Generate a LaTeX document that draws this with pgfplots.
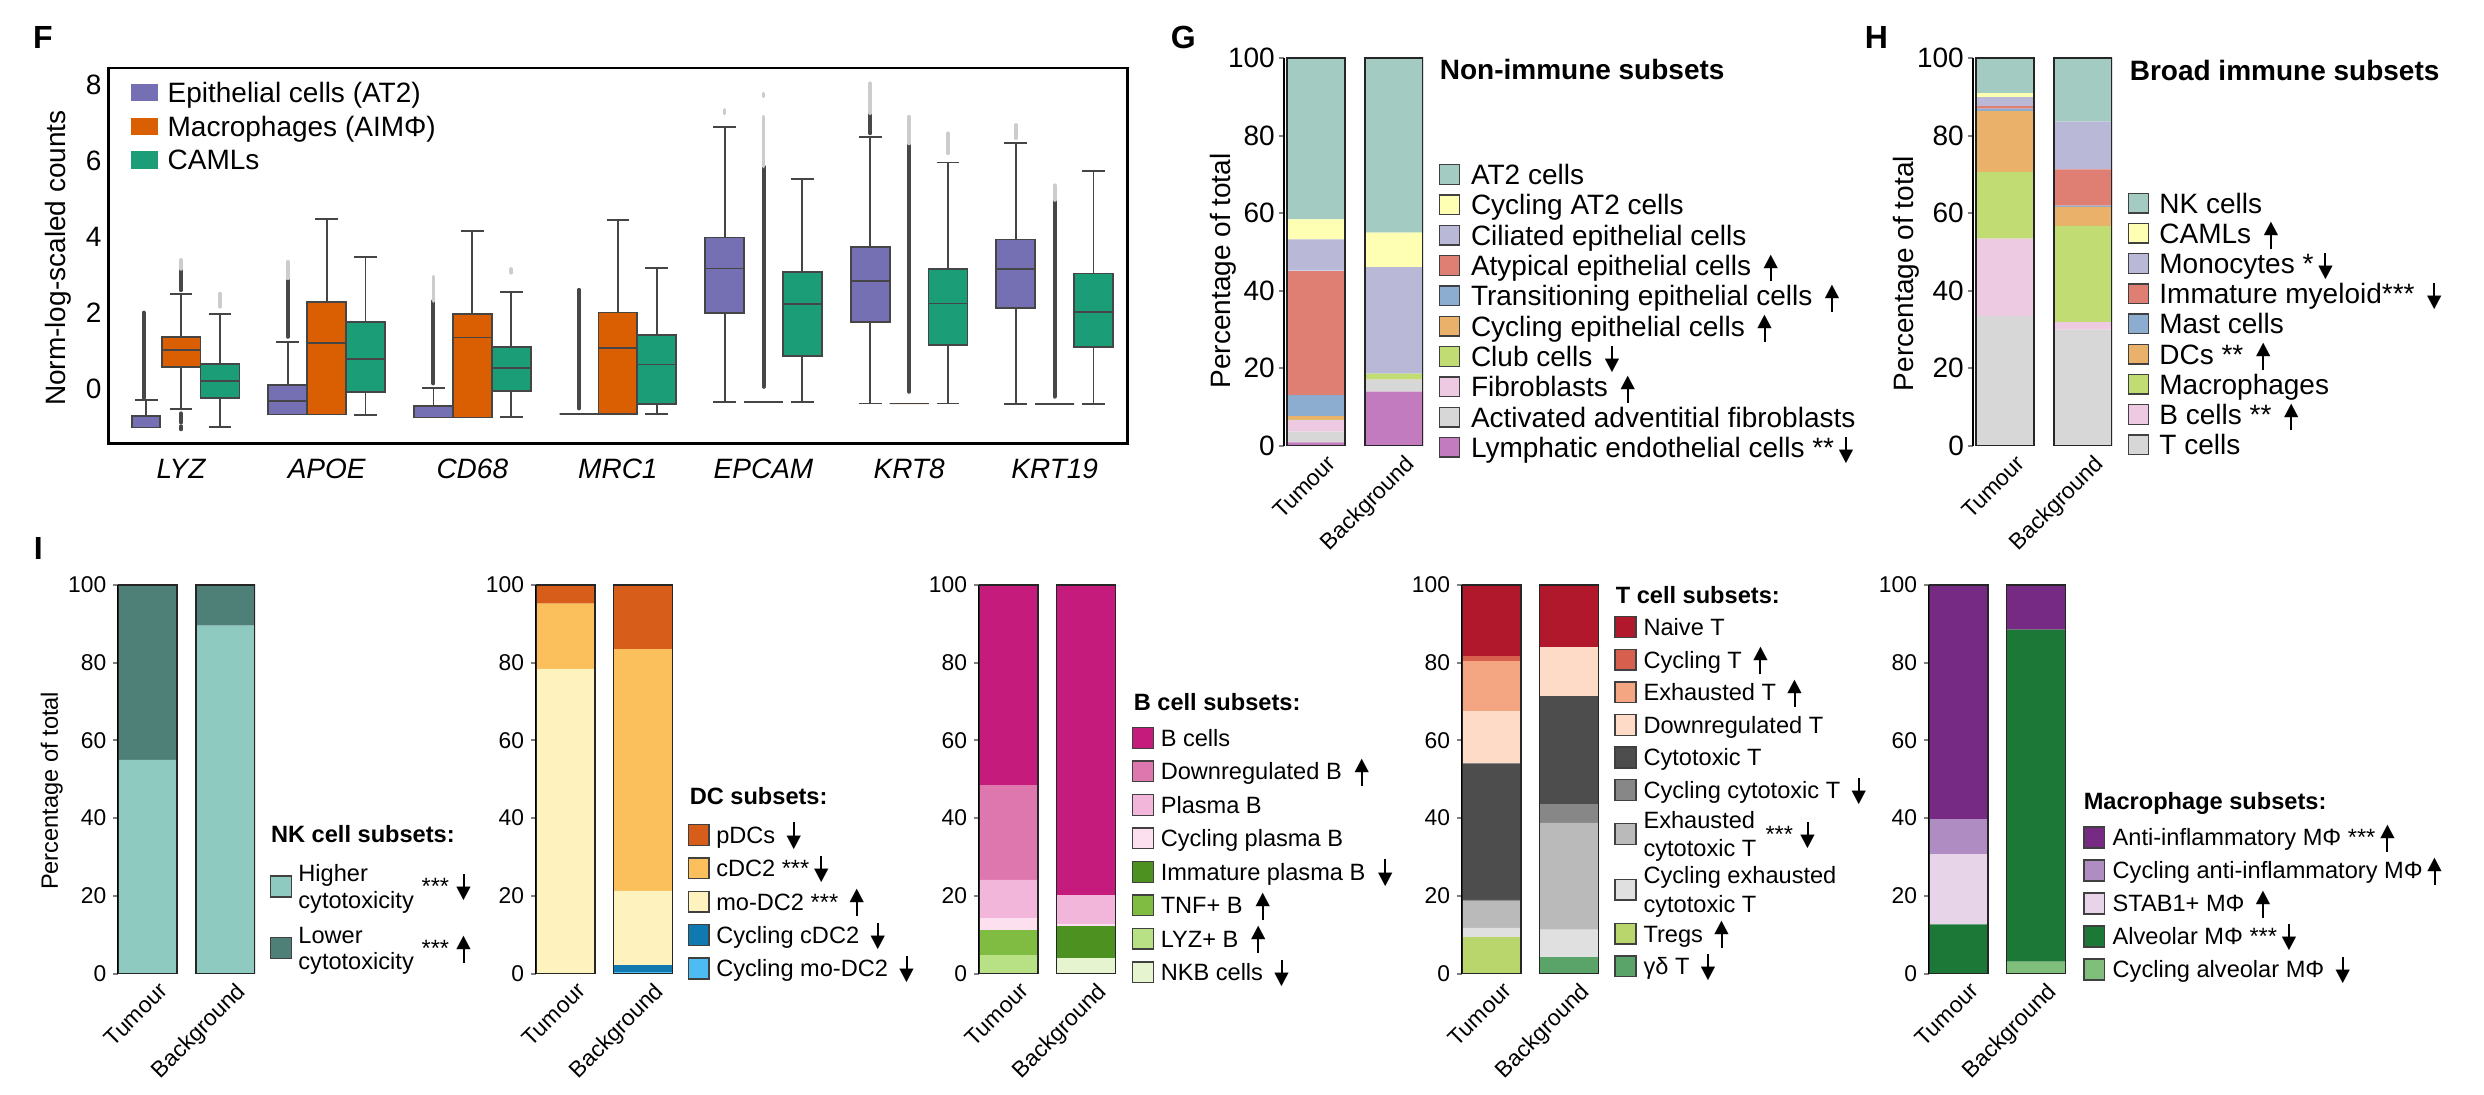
\documentclass[border=0pt]{standalone}
\usepackage{fontspec}
\setmainfont{Liberation Sans}
\newfontfamily\arrowfont{DejaVu Sans}
\usepackage{graphicx}
\usepackage{pgfplots}
\pgfplotsset{compat=1.18}
\usepgfplotslibrary{statistics}

\newcommand\fseven{\fontsize{7pt}{8.4pt}\selectfont}
\newcommand\fsix{\fontsize{5.9pt}{6.6pt}\selectfont}
\newcommand\fxt{\fontsize{5.7pt}{6.8pt}\selectfont}
\newcommand\fletter{\fontsize{8pt}{9.6pt}\selectfont\bfseries}
\newcommand\tri[1]{\resizebox*{3.6pt}{3.4pt}{\raisebox{\depth}{\arrowfont #1}}}
\newcommand\up{\hspace{1.2pt}\raisebox{-1.5pt}{\rlap{\hspace{1.55pt}\rule{0.5pt}{4pt}}\raisebox{3.3pt}{\tri{▲}}}}
\newcommand\dn{\hspace{1.2pt}\raisebox{-1.5pt}{\rlap{\hspace{1.55pt}\raisebox{2.7pt}{\rule{0.5pt}{4pt}}}\tri{▼}}}

\newcommand\nkHiT{\parbox[t]{30.8pt}{\fontsize{5.9pt}{6.6pt}\selectfont\raggedright Higher\\cytotoxicity}\raisebox{-3.3pt}{***\hspace{0.6pt}\dn}}
\newcommand\nkLoT{\parbox[t]{30.8pt}{\fontsize{5.9pt}{6.6pt}\selectfont\raggedright Lower\\cytotoxicity}\raisebox{-3.3pt}{***\hspace{0.6pt}\up}}
\newcommand\tExhT{\parbox[t]{30.5pt}{\fontsize{5.9pt}{7.05pt}\selectfont\raggedright Exhausted\\cytotoxic T}\raisebox{-3.5pt}{***\hspace{0.6pt}\dn}}
\newcommand\tCycExhT{\parbox[t]{55pt}{\fontsize{5.9pt}{7.05pt}\selectfont\raggedright Cycling exhausted\\cytotoxic T}}

\definecolor{fEpi}{HTML}{7570B3}
\definecolor{fMac}{HTML}{D95F02}
\definecolor{fCaml}{HTML}{1B9E77}
\definecolor{bxd}{HTML}{454545}
\definecolor{gAT}{HTML}{A3CBC1}
\definecolor{gCAT}{HTML}{FFFFB3}
\definecolor{gCil}{HTML}{B9B8D6}
\definecolor{gAty}{HTML}{DF7E72}
\definecolor{gTra}{HTML}{8DADD0}
\definecolor{gCEp}{HTML}{E9B169}
\definecolor{gClu}{HTML}{C0DC73}
\definecolor{gFib}{HTML}{EDCAE1}
\definecolor{gAct}{HTML}{D7D7D7}
\definecolor{gLym}{HTML}{C17BBE}
\definecolor{nkHi}{HTML}{8ECAC0}
\definecolor{nkLo}{HTML}{4E8077}
\definecolor{dP}{HTML}{D75E1A}
\definecolor{dC}{HTML}{FBBF5C}
\definecolor{dM}{HTML}{FEF2BE}
\definecolor{dCC}{HTML}{1079B0}
\definecolor{dCM}{HTML}{4DBCF3}
\definecolor{bB}{HTML}{C51B7D}
\definecolor{bD}{HTML}{DE77AE}
\definecolor{bP}{HTML}{F1B6DA}
\definecolor{bCP}{HTML}{FDE0EF}
\definecolor{bI}{HTML}{4D9221}
\definecolor{bT}{HTML}{7FBC41}
\definecolor{bL}{HTML}{B8E186}
\definecolor{bN}{HTML}{E6F5D0}
\definecolor{tN}{HTML}{B2182B}
\definecolor{tC}{HTML}{D6604D}
\definecolor{tE}{HTML}{F4A582}
\definecolor{tD}{HTML}{FDDBC7}
\definecolor{tCy}{HTML}{4D4D4D}
\definecolor{tCC}{HTML}{878787}
\definecolor{tEC}{HTML}{BABABA}
\definecolor{tCE}{HTML}{E0E0E0}
\definecolor{tR}{HTML}{B8D66B}
\definecolor{tG}{HTML}{5AA469}
\definecolor{mA}{HTML}{762A83}
\definecolor{mCA}{HTML}{AF8DC3}
\definecolor{mS}{HTML}{E7D4E8}
\definecolor{mAl}{HTML}{1B7837}
\definecolor{mCAl}{HTML}{7FBF7B}

\pgfplotsset{
  flierD/.style={line width=1.0pt, color=black!72, line cap=round, forget plot},
  flierL/.style={line width=0.9pt, color=black!20, line cap=round, forget plot},
  bx/.style={draw=bxd, line width=0.45pt, forget plot},
  sqG/.style={legend image code/.code={\draw[##1,draw=black!75,line width=0.35pt] (0pt,-2.45pt) rectangle (4.9pt,2.45pt);}},
  sqI/.style={legend image code/.code={\draw[##1,draw=black!75,line width=0.35pt] (0pt,-2.6pt) rectangle (5.2pt,2.6pt);}},
  barax/.style={
    scale only axis, anchor=north west,
    ybar stacked,
    ymin=0, ymax=100, enlargelimits=false,
    axis lines*=left,
    x axis line style={draw=none},
    y axis line style={line width=0.5pt},
    xtick={0,1}, xticklabels={Tumour,Background},
    xtick style={draw=none},
    ytick={0,20,40,60,80,100},
    ytick style={line width=0.5pt},
    tick align=outside, major tick length=1.3pt,
    /pgf/number format/assume math mode=true,
    xticklabel style={font=\fxt, rotate=45, anchor=north east, inner sep=0pt, xshift=1.5pt, yshift=-2pt},
    legend cell align=left,
    every axis plot post/.append style={draw=none},
  },
  gh/.style={barax, width=34.75pt, height=97pt, xmin=-0.41, xmax=1.372, bar width=0.744,
    yticklabel style={font=\fseven, inner xsep=0.8pt},
    ylabel style={font=\fseven},
    every axis plot post/.append style={sqG},
    legend style={draw=none, fill=none, inner sep=0pt, outer sep=0pt, anchor=north west, font=\fseven,
      nodes={inner sep=0pt, text height=5pt, text depth=0pt}},
  },
  ip/.style={barax, width=34.25pt, height=97.175pt, xmin=-0.381, xmax=1.387, bar width=0.761,
    yticklabel style={font=\fxt, inner xsep=1.5pt},
    ylabel style={font=\fsix},
    every axis plot post/.append style={sqI},
    legend style={draw=none, fill=none, inner sep=0pt, outer sep=0pt, anchor=north west, font=\fsix,
      nodes={inner sep=0pt, text height=4.22pt, text depth=0pt}},
  },
}

\newcommand{\barframe}[6]{%
  \begin{axis}[at={#1}, anchor=north west, scale only axis, width=#2, height=#3,
    xmin=#4, xmax=#5, ymin=0, ymax=100, hide axis, ybar, bar width=#6]
  \addplot[fill=none, draw=black!85, line width=0.45pt] coordinates {(0,100) (1,100)};
  \end{axis}}

\begin{document}
\begin{tikzpicture}
\path[use as bounding box] (0,0) rectangle (621pt,-273.5pt);

\node[anchor=base west, inner sep=0pt, font=\fletter] at (8.1pt,-12.1pt) {F};
\node[anchor=base west, inner sep=0pt, font=\fletter] at (292.5pt,-12.05pt) {G};
\node[anchor=base west, inner sep=0pt, font=\fletter] at (466pt,-12.05pt) {H};
\node[anchor=base west, inner sep=0pt, font=\fletter] at (8.25pt,-139.85pt) {I};

% ---------------- F ----------------
\begin{axis}[
  at={(27.075pt,-16.925pt)}, anchor=north west, scale only axis,
  width=254.8pt, height=93.9pt,
  xmin=-0.5, xmax=6.5, ymin=-1.45, ymax=8.46,
  axis line style={line width=0.6pt},
  xtick={0,1,2,3,4,5,6},
  xticklabels={LYZ,APOE,CD68,MRC1,EPCAM,KRT8,KRT19},
  xticklabel style={font=\fseven\itshape, inner sep=0pt, yshift=-3.75pt},
  ytick={0,2,4,6,8},
  yticklabel style={font=\fseven, inner xsep=1.5pt},
  major tick length=0pt,
  /pgf/number format/assume math mode=true,
  ylabel={Norm-log-scaled counts},
  ylabel style={font=\fseven, at={(axis description cs:-0.049,0.493)}, anchor=center},
  boxplot/draw direction=y,
  boxplot/box extend=0.267,
  boxplot/whisker extend=0.156,
  legend style={draw=none, fill=none, inner sep=0pt, outer sep=0pt, at={(0.0223,0.961)}, anchor=north west,
    font=\fseven, row sep=3.45pt, column sep=2.5pt, nodes={inner sep=0pt, text height=5pt, text depth=0pt}},
  legend cell align=left,
]
% fliers
\addplot[flierD] coordinates {(-0.257,-0.25) (-0.257,2.0)};
\addplot[flierD] coordinates {(0,2.59) (0,3.15)};
\addplot[flierL] coordinates {(0,3.15) (0,3.39)};
\addplot[flierD] coordinates {(0,-0.66) (0,-0.9)};
\addplot[flierD] coordinates {(0,-1.0) (0,-1.08)};
\addplot[flierL] coordinates {(0.267,2.15) (0.267,2.5)};
\addplot[flierD] coordinates {(0.733,1.36) (0.733,2.9)};
\addplot[flierL] coordinates {(0.733,2.9) (0.733,3.34)};
\addplot[flierD] coordinates {(1.733,0.13) (1.733,2.3)};
\addplot[flierL] coordinates {(1.733,2.3) (1.733,2.95)};
\addplot[flierL] coordinates {(2.267,3.05) (2.267,3.15)};
\addplot[flierD] coordinates {(2.733,-0.53) (2.733,2.6)};
\addplot[flierL] coordinates {(3.733,7.25) (3.733,7.35)};
\addplot[flierD] coordinates {(4,0.04) (4,5.85)};
\addplot[flierL] coordinates {(4,5.85) (4,7.17)};
\addplot[flierL] coordinates {(4,7.7) (4,7.78)};
\addplot[flierD] coordinates {(4.733,6.73) (4.733,7.26)};
\addplot[flierL] coordinates {(4.733,7.26) (4.733,8.05)};
\addplot[flierD] coordinates {(5,-0.09) (5,6.46)};
\addplot[flierL] coordinates {(5,6.46) (5,7.17)};
\addplot[flierL] coordinates {(5.267,6.2) (5.267,6.73)};
\addplot[flierL] coordinates {(5.733,6.6) (5.733,6.95)};
\addplot[flierD] coordinates {(6,-0.22) (6,4.97)};
\addplot[flierL] coordinates {(6,4.97) (6,5.36)};
% boxes LYZ
\addplot[bx, fill=fEpi, boxplot prepared={draw position=-0.24, box extend=0.19, lower whisker=-1.03, lower quartile=-1.03, median=-1.03, upper quartile=-0.73, upper whisker=-0.31}] coordinates {};
\addplot[bx, fill=fMac, boxplot prepared={draw position=0, lower whisker=-0.55, lower quartile=0.57, median=1.01, upper quartile=1.35, upper whisker=2.48}] coordinates {};
\addplot[bx, fill=fCaml, boxplot prepared={draw position=0.267, lower whisker=-1.01, lower quartile=-0.25, median=0.19, upper quartile=0.65, upper whisker=1.96}] coordinates {};
% APOE
\addplot[bx, fill=fEpi, boxplot prepared={draw position=0.733, lower whisker=-0.69, lower quartile=-0.69, median=-0.33, upper quartile=0.09, upper whisker=1.23}] coordinates {};
\addplot[bx, fill=fMac, boxplot prepared={draw position=1, lower whisker=-0.69, lower quartile=-0.69, median=1.19, upper quartile=2.27, upper whisker=4.47}] coordinates {};
\addplot[bx, fill=fCaml, boxplot prepared={draw position=1.267, lower whisker=-0.70, lower quartile=-0.09, median=0.77, upper quartile=1.75, upper whisker=3.47}] coordinates {};
% CD68
\addplot[bx, fill=fEpi, boxplot prepared={draw position=1.733, lower whisker=-0.77, lower quartile=-0.77, median=-0.77, upper quartile=-0.46, upper whisker=0.0}] coordinates {};
\addplot[bx, fill=fMac, boxplot prepared={draw position=2, lower whisker=-0.77, lower quartile=-0.77, median=1.34, upper quartile=1.96, upper whisker=4.15}] coordinates {};
\addplot[bx, fill=fCaml, boxplot prepared={draw position=2.267, lower whisker=-0.76, lower quartile=-0.06, median=0.53, upper quartile=1.10, upper whisker=2.55}] coordinates {};
% MRC1
\addplot[bx, fill=fEpi, boxplot prepared={draw position=2.733, lower whisker=-0.68, lower quartile=-0.68, median=-0.68, upper quartile=-0.68, upper whisker=-0.68}] coordinates {};
\addplot[bx, fill=fMac, boxplot prepared={draw position=3, lower whisker=-0.68, lower quartile=-0.68, median=1.07, upper quartile=2.0, upper whisker=4.44}] coordinates {};
\addplot[bx, fill=fCaml, boxplot prepared={draw position=3.267, lower whisker=-0.68, lower quartile=-0.42, median=0.63, upper quartile=1.41, upper whisker=3.18}] coordinates {};
% EPCAM
\addplot[bx, fill=fEpi, boxplot prepared={draw position=3.733, lower whisker=-0.37, lower quartile=1.98, median=3.16, upper quartile=3.98, upper whisker=6.90}] coordinates {};
\addplot[bx, fill=fMac, boxplot prepared={draw position=4, lower whisker=-0.37, lower quartile=-0.37, median=-0.37, upper quartile=-0.37, upper whisker=-0.37}] coordinates {};
\addplot[bx, fill=fCaml, boxplot prepared={draw position=4.267, lower whisker=-0.37, lower quartile=0.86, median=2.22, upper quartile=3.06, upper whisker=5.52}] coordinates {};
% KRT8
\addplot[bx, fill=fEpi, boxplot prepared={draw position=4.733, lower whisker=-0.40, lower quartile=1.76, median=2.83, upper quartile=3.72, upper whisker=6.64}] coordinates {};
\addplot[bx, fill=fMac, boxplot prepared={draw position=5, lower whisker=-0.40, lower quartile=-0.40, median=-0.40, upper quartile=-0.40, upper whisker=-0.40}] coordinates {};
\addplot[bx, fill=fCaml, boxplot prepared={draw position=5.267, lower whisker=-0.40, lower quartile=1.14, median=2.24, upper quartile=3.14, upper whisker=5.96}] coordinates {};
% KRT19
\addplot[bx, fill=fEpi, boxplot prepared={draw position=5.733, lower whisker=-0.42, lower quartile=2.11, median=3.14, upper quartile=3.93, upper whisker=6.48}] coordinates {};
\addplot[bx, fill=fMac, boxplot prepared={draw position=6, lower whisker=-0.42, lower quartile=-0.42, median=-0.42, upper quartile=-0.42, upper whisker=-0.42}] coordinates {};
\addplot[bx, fill=fCaml, boxplot prepared={draw position=6.267, lower whisker=-0.42, lower quartile=1.10, median=2.02, upper quartile=3.03, upper whisker=5.73}] coordinates {};
\addlegendimage{legend image code/.code={\fill[fEpi] (0pt,-1.95pt) rectangle (6.25pt,1.95pt);}}
\addlegendentry{Epithelial cells (AT2)}
\addlegendimage{legend image code/.code={\fill[fMac] (0pt,-1.95pt) rectangle (6.25pt,1.95pt);}}
\addlegendentry{Macrophages (AIMΦ)}
\addlegendimage{legend image code/.code={\fill[fCaml] (0pt,-1.95pt) rectangle (6.25pt,1.95pt);}}
\addlegendentry{CAMLs}
\end{axis}

% ---------------- G ----------------
\begin{axis}[gh, at={(321pt,-14.475pt)},
  ylabel={Percentage of total},
  ylabel style={at={(axis description cs:-0.435,0.451)}, anchor=center},
  reverse legend,
  legend style={at={(1.115,0.7266)}, row sep=2.33pt, column sep=2.75pt},
]
\addplot[fill=gLym] coordinates {(0,0.9) (1,14.0)}; \addlegendentry{Lymphatic endothelial cells **\dn}
\addplot[fill=gAct] coordinates {(0,2.8) (1,3.0)}; \addlegendentry{Activated adventitial fibroblasts}
\addplot[fill=gFib] coordinates {(0,2.95) (1,0.1)}; \addlegendentry{Fibroblasts \up}
\addplot[fill=gClu] coordinates {(0,0.1) (1,1.5)}; \addlegendentry{Club cells \dn}
\addplot[fill=gCEp] coordinates {(0,0.85) (1,0)}; \addlegendentry{Cycling epithelial cells \up}
\addplot[fill=gTra] coordinates {(0,5.6) (1,0)}; \addlegendentry{Transitioning epithelial cells \up}
\addplot[fill=gAty] coordinates {(0,32.0) (1,0)}; \addlegendentry{Atypical epithelial cells \up}
\addplot[fill=gCil] coordinates {(0,8.0) (1,27.5)}; \addlegendentry{Ciliated epithelial cells}
\addplot[fill=gCAT] coordinates {(0,5.2) (1,8.9)}; \addlegendentry{Cycling AT2 cells}
\addplot[fill=gAT] coordinates {(0,41.6) (1,45.0)}; \addlegendentry{AT2 cells}
\end{axis}
\barframe{(321pt,-14.475pt)}{34.75pt}{97pt}{-0.41}{1.372}{0.744}
\node[anchor=base west, inner sep=0pt, font=\fseven\bfseries] at (359.75pt,-19.75pt) {Non-immune subsets};

% ---------------- H ----------------
\begin{axis}[gh, at={(493.25pt,-14.475pt)},
  ylabel={Percentage of total},
  ylabel style={at={(axis description cs:-0.48,0.444)}, anchor=center},
  reverse legend,
  legend style={at={(1.115,0.653)}, row sep=2.3pt, column sep=2.6pt},
]
\addplot[fill=gAct] coordinates {(0,33.5) (1,30.0)}; \addlegendentry{T cells}
\addplot[fill=gFib] coordinates {(0,19.9) (1,1.9)}; \addlegendentry{B cells ** \up}
\addplot[fill=gClu] coordinates {(0,17.2) (1,24.8)}; \addlegendentry{Macrophages}
\addplot[fill=gCEp] coordinates {(0,15.7) (1,4.9)}; \addlegendentry{DCs ** \up}
\addplot[fill=gTra] coordinates {(0,0.6) (1,0.3)}; \addlegendentry{Mast cells}
\addplot[fill=gAty] coordinates {(0,0.7) (1,9.4)}; \addlegendentry{Immature myeloid*** \dn}
\addplot[fill=gCil] coordinates {(0,2.3) (1,12.3)}; \addlegendentry{Monocytes *\dn}
\addplot[fill=gCAT] coordinates {(0,1.1) (1,0)}; \addlegendentry{CAMLs \up}
\addplot[fill=gAT] coordinates {(0,9.0) (1,16.4)}; \addlegendentry{NK cells}
\end{axis}
\barframe{(493.25pt,-14.475pt)}{34.75pt}{97pt}{-0.41}{1.372}{0.744}
\node[anchor=base west, inner sep=0pt, font=\fseven\bfseries] at (532.25pt,-20.15pt) {Broad immune subsets};

% ---------------- I: NK ----------------
\begin{axis}[ip, at={(29.55pt,-146.225pt)},
  ylabel={Percentage of total},
  ylabel style={at={(axis description cs:-0.485,0.47)}, anchor=center},
  legend style={at={(1.108,0.28)}, row sep=4.6pt, column sep=1.55pt},
]
\addplot[fill=nkHi] coordinates {(0,55.0) (1,89.5)}; \addlegendentry[text depth=6.6pt]{\nkHiT}
\addplot[fill=nkLo] coordinates {(0,45.0) (1,10.5)}; \addlegendentry[text depth=6.6pt]{\nkLoT}
\end{axis}
\barframe{(29.55pt,-146.225pt)}{34.25pt}{97.175pt}{-0.381}{1.387}{0.761}
\node[anchor=base west, inner sep=0pt, font=\fsix\bfseries] at (67.575pt,-210.7pt) {NK cell subsets:};

% ---------------- I: DC ----------------
\begin{axis}[ip, at={(134pt,-146.225pt)},
  reverse legend,
  legend style={at={(1.107,0.3856)}, row sep=2.8pt, column sep=1.6pt},
]
\addplot[fill=dCM] coordinates {(0,0) (1,0.4)}; \addlegendentry{Cycling mo-DC2 \dn}
\addplot[fill=dCC] coordinates {(0,0) (1,1.8)}; \addlegendentry{Cycling cDC2 \dn}
\addplot[fill=dM] coordinates {(0,78.4) (1,19.1)}; \addlegendentry{mo-DC2 *** \up}
\addplot[fill=dC] coordinates {(0,16.8) (1,62.2)}; \addlegendentry{cDC2 ***\dn}
\addplot[fill=dP] coordinates {(0,4.8) (1,16.5)}; \addlegendentry{pDCs \dn}
\end{axis}
\barframe{(134pt,-146.225pt)}{34.25pt}{97.175pt}{-0.381}{1.387}{0.761}
\node[anchor=base west, inner sep=0pt, font=\fsix\bfseries] at (172.25pt,-201.1pt) {DC subsets:};

% ---------------- I: B ----------------
\begin{axis}[ip, at={(244.75pt,-146.225pt)},
  reverse legend,
  legend style={at={(1.115,0.635)}, row sep=2.82pt, column sep=1.7pt},
]
\addplot[fill=bN] coordinates {(0,0) (1,4.0)}; \addlegendentry{NKB cells \dn}
\addplot[fill=bL] coordinates {(0,4.7) (1,0)}; \addlegendentry{LYZ+ B\hspace{2pt}\up}
\addplot[fill=bT] coordinates {(0,6.4) (1,0)}; \addlegendentry{TNF+ B\hspace{2pt}\up}
\addplot[fill=bI] coordinates {(0,0) (1,8.2)}; \addlegendentry{Immature plasma B\hspace{2pt}\dn}
\addplot[fill=bCP] coordinates {(0,3.2) (1,0.5)}; \addlegendentry{Cycling plasma B}
\addplot[fill=bP] coordinates {(0,9.8) (1,7.5)}; \addlegendentry{Plasma B}
\addplot[fill=bD] coordinates {(0,24.3) (1,0)}; \addlegendentry{Downregulated B\hspace{2pt}\up}
\addplot[fill=bB] coordinates {(0,51.6) (1,79.8)}; \addlegendentry{B cells}
\end{axis}
\barframe{(244.75pt,-146.225pt)}{34.25pt}{97.175pt}{-0.381}{1.387}{0.761}
\node[anchor=base west, inner sep=0pt, font=\fsix\bfseries] at (283.25pt,-177.56pt) {B cell subsets:};

% ---------------- I: T ----------------
\begin{axis}[ip, at={(365.5pt,-146.225pt)},
  reverse legend,
  legend style={at={(1.112,0.92)}, row sep=2.6pt, column sep=1.75pt},
]
\addplot[fill=tG] coordinates {(0,0) (1,4.3)}; \addlegendentry{γδ T \dn}
\addplot[fill=tR] coordinates {(0,9.3) (1,0)}; \addlegendentry{Tregs \up}
\addplot[fill=tCE] coordinates {(0,2.5) (1,7.0)}; \addlegendentry[text depth=7.05pt]{\tCycExhT}
\addplot[fill=tEC] coordinates {(0,6.9) (1,27.5)}; \addlegendentry[text depth=7.05pt]{\tExhT}
\addplot[fill=tCC] coordinates {(0,0.3) (1,4.8)}; \addlegendentry{Cycling cytotoxic T \dn}
\addplot[fill=tCy] coordinates {(0,35.1) (1,27.8)}; \addlegendentry{Cytotoxic T}
\addplot[fill=tD] coordinates {(0,13.4) (1,12.6)}; \addlegendentry{Downregulated T}
\addplot[fill=tE] coordinates {(0,13.0) (1,0)}; \addlegendentry{Exhausted T \up}
\addplot[fill=tC] coordinates {(0,1.2) (1,0)}; \addlegendentry{Cycling T \up}
\addplot[fill=tN] coordinates {(0,18.3) (1,16.0)}; \addlegendentry{Naive T}
\end{axis}
\barframe{(365.5pt,-146.225pt)}{34.25pt}{97.175pt}{-0.381}{1.387}{0.761}
\node[anchor=base west, inner sep=0pt, font=\fsix\bfseries] at (403.75pt,-150.8pt) {T cell subsets:};

% ---------------- I: Macrophage ----------------
\begin{axis}[ip, at={(482.25pt,-146.225pt)},
  reverse legend,
  legend style={at={(1.126,0.379)}, row sep=2.7pt, column sep=1.8pt},
]
\addplot[fill=mCAl] coordinates {(0,0) (1,3.1)}; \addlegendentry{Cycling alveolar MΦ \dn}
\addplot[fill=mAl] coordinates {(0,12.7) (1,85.4)}; \addlegendentry{Alveolar MΦ ***\dn}
\addplot[fill=mS] coordinates {(0,18.1) (1,0)}; \addlegendentry{STAB1+ MΦ \up}
\addplot[fill=mCA] coordinates {(0,8.9) (1,0)}; \addlegendentry{Cycling anti-inflammatory MΦ\up}
\addplot[fill=mA] coordinates {(0,60.3) (1,11.5)}; \addlegendentry{Anti-inflammatory MΦ ***\up}
\end{axis}
\barframe{(482.25pt,-146.225pt)}{34.25pt}{97.175pt}{-0.381}{1.387}{0.761}
\node[anchor=base west, inner sep=0pt, font=\fsix\bfseries] at (520.75pt,-202.3pt) {Macrophage subsets:};

\end{tikzpicture}
\end{document}
